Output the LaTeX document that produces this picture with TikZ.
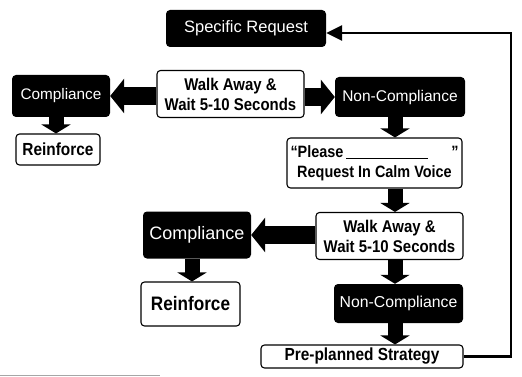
\documentclass[tikz,border=0pt]{standalone}
\usepackage{fontspec}
\setmainfont{Liberation Sans}
\newfontfamily\condfont[FakeStretch=0.88]{Liberation Sans}
\usetikzlibrary{arrows.meta,calc}
\begin{document}
\begin{tikzpicture}[x=1pt,y=-1pt,
  blk/.style={fill=black,text=white,rounded corners=4pt,inner sep=0pt,align=center},
  wht/.style={draw=black,line width=1.1pt,fill=white,rounded corners=3.5pt,inner sep=0pt,align=center},
  harrow/.style={line width=18pt,-{Triangle[width=34pt,length=14pt]}},
  varrow/.style={line width=15pt,-{Triangle[width=29pt,length=9pt]}},
  fb/.style={line width=2.6pt,-{Triangle[width=15pt,length=16pt]}}]
\useasboundingbox (0,0) rectangle (522,377);
% nodes
\node[blk,minimum width=160pt,minimum height=37pt,font=\fontsize{16.5}{18}\selectfont] (SR) at (246,28.5) {Specific Request};
\node[wht,minimum width=147pt,minimum height=47pt,font=\condfont\fontsize{17}{20}\selectfont\bfseries] (W1) at (230.5,94) {Walk Away \&\\Wait 5-10 Seconds};
\node[blk,minimum width=98pt,minimum height=42pt,font=\fontsize{15.3}{18}\selectfont] (C1) at (61,96) {Compliance};
\node[wht,minimum width=84pt,minimum height=31pt,font=\condfont\fontsize{17.5}{18}\selectfont\bfseries] (R1) at (58,149.5) {Reinforce};
\node[blk,minimum width=130pt,minimum height=40pt,font=\fontsize{15.5}{18}\selectfont] (NC1) at (400,97) {Non-Compliance};
\node[wht,minimum width=175pt,minimum height=50pt,font=\condfont\fontsize{16.4}{20}\selectfont\bfseries] (P) at (374.5,163)
  {\makebox[168pt][l]{“Please\,\rule[-1.5pt]{82pt}{0.9pt}\hfill”}\\Request In Calm Voice};
\node[wht,minimum width=147pt,minimum height=47pt,font=\condfont\fontsize{17}{20}\selectfont\bfseries] (W2) at (389.5,236) {Walk Away \&\\Wait 5-10 Seconds};
\node[blk,minimum width=108pt,minimum height=47pt,font=\fontsize{18}{20}\selectfont] (C2) at (197,235) {Compliance};
\node[wht,minimum width=99pt,minimum height=44pt,font=\condfont\fontsize{19.5}{20}\selectfont\bfseries] (R2) at (190.5,304) {Reinforce};
\node[blk,minimum width=129pt,minimum height=39pt,font=\fontsize{15.8}{18}\selectfont] (NC2) at (398.5,303.5) {Non-Compliance};
\node[wht,minimum width=202pt,minimum height=23pt,font=\condfont\fontsize{17.5}{18}\selectfont\bfseries] (Pre) at (362,356.5) {Pre-planned Strategy};
% helper coordinates
\coordinate (colA) at (56,0);
\coordinate (colB) at (192,0);
\coordinate (colC) at (395,0);
\coordinate (fbx) at (511,33);
% block arrows
\draw[harrow] (W1.west |- C1) -- (C1.east);
\draw[harrow] (W1.east |- NC1) -- (NC1.west);
\draw[varrow] (C1.south -| colA) -- (R1.north -| colA);
\draw[varrow] (NC1.south -| colC) -- (P.north -| colC);
\draw[varrow] (P.south -| colC) -- (W2.north -| colC);
\draw[harrow] (W2.west |- C2) -- (C2.east);
\draw[varrow] (C2.south -| colB) -- (R2.north -| colB);
\draw[varrow] (W2.south -| colC) -- (NC2.north -| colC);
\draw[varrow] (NC2.south -| colC) -- (Pre.north -| colC);
% feedback
\draw[fb] (Pre.east) -| (fbx) -- (SR.east |- fbx);
% scan edge line
\draw[gray!70,line width=0.8pt] (0,375) -- (160,375);
\end{tikzpicture}
\end{document}
